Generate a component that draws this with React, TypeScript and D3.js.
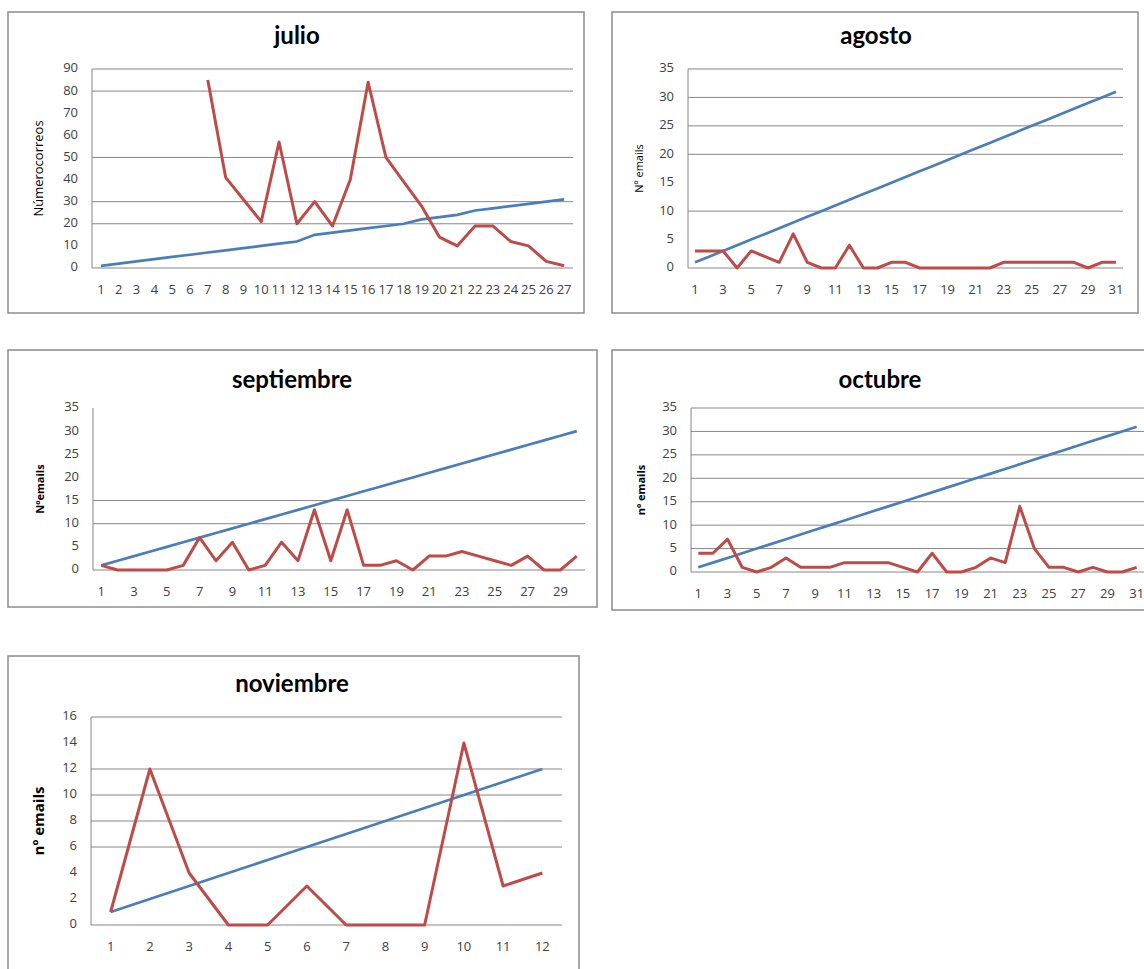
import React from "react";
import * as d3 from "d3";

// julio
const julioDays = ["1", "2", "3", "4", "5", "6", "7", "8", "9", "10", "11", "12", "13", "14", "15", "16", "17", "18", "19", "20", "21", "22", "23", "24", "25", "26", "27"];
const julioEmails = [null, null, null, null, null, null, 85, 41, 31, 21, 57, 20, 30, 19, 40, 84, 50, 39, 28, 14, 10, 19, 19, 12, 10, 3, 1];
const julioDate = [1, 2, 3, 4, 5, 6, 7, 8, 9, 10, 11, 12, 15, 16, 17, 18, 19, 20, 22, 23, 24, 26, 27, 28, 29, 30, 31];
const julioGrid = [0, 20, 30, 50, 80, 90];

// agosto
const agostoDays = ["1", "2", "3", "4", "5", "6", "7", "8", "9", "10", "11", "12", "13", "14", "15", "16", "17", "18", "19", "20", "21", "22", "23", "24", "25", "26", "27", "28", "29", "30", "31"];
const agostoEmails = [3, 3, 3, 0, 3, 2, 1, 6, 1, 0, 0, 4, 0, 0, 1, 1, 0, 0, 0, 0, 0, 0, 1, 1, 1, 1, 1, 1, 0, 1, 1];
const agostoDate = [1, 2, 3, 4, 5, 6, 7, 8, 9, 10, 11, 12, 13, 14, 15, 16, 17, 18, 19, 20, 21, 22, 23, 24, 25, 26, 27, 28, 29, 30, 31];
const agostoGrid = [0, 10, 20, 25, 30, 35];

// septiembre
const septDays = ["1", "2", "3", "4", "5", "6", "7", "8", "9", "10", "11", "12", "13", "14", "15", "16", "17", "18", "19", "20", "21", "22", "23", "24", "25", "26", "27", "28", "29", "30"];
const septEmails = [1, 0, 0, 0, 0, 1, 7, 2, 6, 0, 1, 6, 2, 13, 2, 13, 1, 1, 2, 0, 3, 3, 4, 3, 2, 1, 3, 0, 0, 3];
const septDate = [1, 2, 3, 4, 5, 6, 7, 8, 9, 10, 11, 12, 13, 14, 15, 16, 17, 18, 19, 20, 21, 22, 23, 24, 25, 26, 27, 28, 29, 30];
const septGrid = [0, 10, 15];

// octubre
const octDays = ["1", "2", "3", "4", "5", "6", "7", "8", "9", "10", "11", "12", "13", "14", "15", "16", "17", "18", "19", "20", "21", "22", "23", "24", "25", "26", "27", "28", "29", "30", "31"];
const octEmails = [4, 4, 7, 1, 0, 1, 3, 1, 1, 1, 2, 2, 2, 2, 1, 0, 4, 0, 0, 1, 3, 2, 14, 5, 1, 1, 0, 1, 0, 0, 1];
const octDate = [1, 2, 3, 4, 5, 6, 7, 8, 9, 10, 11, 12, 13, 14, 15, 16, 17, 18, 19, 20, 21, 22, 23, 24, 25, 26, 27, 28, 29, 30, 31];
const octGrid = [0, 5, 10, 15, 20, 25, 30, 35];

// noviembre
const novDays = ["1", "2", "3", "4", "5", "6", "7", "8", "9", "10", "11", "12"];
const novEmails = [1, 12, 4, 0, 0, 3, 0, 0, 0, 14, 3, 4];
const novDate = [1, 2, 3, 4, 5, 6, 7, 8, 9, 10, 11, 12];
const novGrid = [0, 6, 8, 10, 12, 16];

const RED = "#be4b48";
const BLUE = "#4a7ebb";
const GRID = "#868686";
const TITLE_FONT = "Lato, 'Open Sans', sans-serif";
const FONT = "'Open Sans', Lato, sans-serif";

type PanelProps = {
  title: string;
  yLabel: string;
  yLabelBold?: boolean;
  yLabelSize: number;
  days: string[];
  emails: (number | null)[];
  date: number[];
  grid: number[];
  yMax: number;
  yStep: number;
  everyOther: boolean;
  frame: { x: number; y: number; w: number; h: number };
  plot: { l: number; t: number; r: number; b: number };
  titleAt: [number, number];
  yLabelX: number;
};

function Panel(p: PanelProps) {
  const x = d3.scaleBand().domain(p.days).range([p.plot.l, p.plot.r]).padding(0);
  const y = d3.scaleLinear().domain([0, p.yMax]).range([p.plot.b, p.plot.t]);
  const cx = (i: number) => (x(p.days[i]) as number) + x.bandwidth() / 2;

  const redLine = d3
    .line<number | null>()
    .defined((d) => d != null)
    .x((d, i) => cx(i))
    .y((d) => y(d as number));
  const blueLine = d3
    .line<number>()
    .x((d, i) => cx(i))
    .y((d) => y(d));

  const yTicks = d3.range(0, p.yMax + p.yStep / 2, p.yStep);

  return (
    <g>
      <rect x={p.frame.x} y={p.frame.y} width={p.frame.w} height={p.frame.h} fill="#fff" stroke="#8c8c8c" strokeWidth={1.5} />
      <text x={p.titleAt[0]} y={p.titleAt[1]} textAnchor="middle" dominantBaseline="middle" fontFamily={TITLE_FONT} fontWeight="bold" fontSize={24} fill="#000">
        {p.title}
      </text>
      {p.grid.map((g) => (
        <line key={g} x1={p.plot.l} x2={p.plot.r} y1={y(g)} y2={y(g)} stroke={GRID} strokeWidth={1} />
      ))}
      <line x1={p.plot.l} x2={p.plot.l} y1={p.plot.t} y2={p.plot.b} stroke={GRID} strokeWidth={1} />
      {yTicks.map((t) => (
        <text key={t} x={p.plot.l - 14} y={y(t)} textAnchor="end" dominantBaseline="middle" fontFamily={FONT} fontSize={13} fill="#404040">
          {t}
        </text>
      ))}
      {p.days.map((d, i) =>
        p.everyOther && i % 2 === 1 ? null : (
          <text key={d} x={cx(i)} y={p.plot.b + 23} textAnchor="middle" dominantBaseline="middle" fontFamily={FONT} fontSize={13} fill="#404040">
            {d}
          </text>
        )
      )}
      <text
        transform={`translate(${p.yLabelX},${(p.plot.t + p.plot.b) / 2}) rotate(-90)`}
        textAnchor="middle"
        dominantBaseline="middle"
        fontFamily={FONT}
        fontWeight={p.yLabelBold ? "bold" : "normal"}
        fontSize={p.yLabelSize}
        fill="#000"
      >
        {p.yLabel}
      </text>
      <path d={blueLine(p.date) || ""} fill="none" stroke={BLUE} strokeWidth={2.7} />
      <path d={redLine(p.emails) || ""} fill="none" stroke={RED} strokeWidth={3} strokeLinejoin="round" />
    </g>
  );
}

export default function App() {
  return (
    <svg width={1144} height={969} style={{ position: "absolute", left: 0, top: 0, background: "#fff" }}>
      <Panel title="julio" yLabel="Númerocorreos" yLabelSize={13} days={julioDays} emails={julioEmails} date={julioDate} grid={julioGrid} yMax={90} yStep={10} everyOther={false}
        frame={{ x: 8, y: 12, w: 576, h: 301 }} plot={{ l: 92, t: 69, r: 573, b: 268 }} titleAt={[297, 38]} yLabelX={40} />
      <Panel title="agosto" yLabel="Nº emails" yLabelSize={11} days={agostoDays} emails={agostoEmails} date={agostoDate} grid={agostoGrid} yMax={35} yStep={5} everyOther={true}
        frame={{ x: 612, y: 12, w: 526, h: 301 }} plot={{ l: 688, t: 69, r: 1123, b: 268 }} titleAt={[876, 38]} yLabelX={640} />
      <Panel title="septiembre" yLabel="Nºemails" yLabelBold yLabelSize={11} days={septDays} emails={septEmails} date={septDate} grid={septGrid} yMax={35} yStep={5} everyOther={true}
        frame={{ x: 8, y: 350, w: 589, h: 257 }} plot={{ l: 93, t: 408, r: 585, b: 570 }} titleAt={[292, 382]} yLabelX={41} />
      <Panel title="octubre" yLabel="nº emails" yLabelBold yLabelSize={11} days={octDays} emails={octEmails} date={octDate} grid={octGrid} yMax={35} yStep={5} everyOther={true}
        frame={{ x: 612, y: 350, w: 540, h: 260 }} plot={{ l: 691, t: 408, r: 1144, b: 572 }} titleAt={[880, 382]} yLabelX={642} />
      <Panel title="noviembre" yLabel="nº emails" yLabelBold yLabelSize={15} days={novDays} emails={novEmails} date={novDate} grid={novGrid} yMax={16} yStep={2} everyOther={false}
        frame={{ x: 8, y: 656, w: 571, h: 330 }} plot={{ l: 91, t: 717, r: 562, b: 925 }} titleAt={[292, 686]} yLabelX={40} />
    </svg>
  );
}
